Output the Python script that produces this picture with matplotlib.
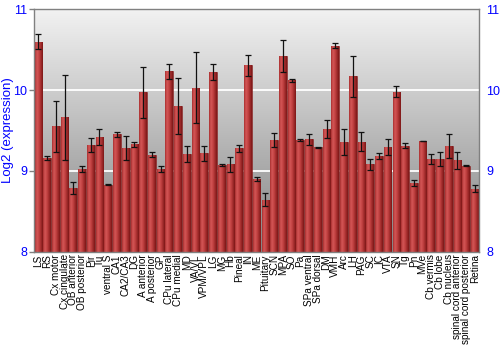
import numpy as np
import matplotlib
matplotlib.use("Agg")
import matplotlib.pyplot as plt
from matplotlib.colors import LinearSegmentedColormap

plt.rcParams['font.family'] = ['Liberation Sans', 'DejaVu Sans']

regions = [
    "LS", "RS", "Cx motor", "Cx cingulate", "OB anterior", "OB posterior",
    "Pir", "Tu", "ventral S", "CA1", "CA2/CA3", "DG", "A anterior",
    "A posterior", "GP", "CPu lateral", "CPu medial", "MD", "VA/VL",
    "VPM/VPL", "LG", "MG", "Hb", "Pineal", "IN", "ME", "Pituitary", "SCN",
    "MPA", "SO", "Pa", "SPa ventral", "SPa dorsal", "DM", "VMH", "Arc", "LH",
    "PAG", "SC", "IC", "VTA", "SN", "Tg", "Pn", "MVe", "Cb vermis", "Cb lobe",
    "Cb nucleus", "spinal cord anterior", "spinal cord posterior", "Retina",
]
expression = [
    10.60, 9.16, 9.55, 9.66, 8.79, 9.02, 9.32, 9.42, 8.83, 9.45,
    9.28, 9.33, 9.97, 9.20, 9.02, 10.23, 9.80, 9.21, 10.03, 9.22,
    10.22, 9.07, 9.08, 9.28, 10.31, 8.90, 8.64, 9.38, 10.42, 10.12,
    9.38, 9.39, 9.29, 9.52, 10.55, 9.36, 10.17, 9.36, 9.08, 9.18,
    9.29, 9.98, 9.31, 8.85, 9.37, 9.15, 9.15, 9.31, 9.13, 9.06,
    8.78,
]
errors = [
    0.09, 0.025, 0.32, 0.53, 0.077, 0.04, 0.083, 0.10, 0.012, 0.03,
    0.15, 0.03, 0.32, 0.03, 0.035, 0.097, 0.35, 0.10, 0.44, 0.093,
    0.097, 0.01, 0.09, 0.045, 0.13, 0.023, 0.08, 0.087, 0.20, 0.015,
    0.01, 0.07, 0.008, 0.11, 0.03, 0.16, 0.25, 0.115, 0.072, 0.037,
    0.10, 0.072, 0.033, 0.04, 0.005, 0.06, 0.085, 0.146, 0.107, 0.006,
    0.047,
]
y_ticks = [8, 9, 10, 11]

blue = "#0000ff"
frame = "#808080"

fig = plt.figure(figsize=(5, 3.5), dpi=100)
ax = fig.add_axes([0.068, 0.2814, 0.8906, 0.692])

base = y_ticks[0]
x = np.arange(len(regions))
heights = np.array(expression) - base

ax.set_xlim(-0.5, len(regions) - 0.5)
ax.set_ylim(y_ticks[0], y_ticks[-1])

# vertical gray gradient behind everything
bg_cmap = LinearSegmentedColormap.from_list("bg", ["#848484", "#f2f2f2"])
ax.imshow(np.linspace(0, 1, 256).reshape(-1, 1), extent=[0, 1, 0, 1],
          transform=ax.transAxes, cmap=bg_cmap, aspect="auto",
          origin="lower", zorder=-2)

for yv in y_ticks[1:-1]:
    ax.axhline(yv, color="white", lw=1.3, zorder=-1)

bars = ax.bar(x, heights, bottom=base, width=0.88, color="#b03030",
              edgecolor="#7a1a1a", linewidth=0.4, zorder=1)

# horizontal shading on each bar
bar_cmap = LinearSegmentedColormap.from_list(
    "bar", ["#a83030", "#d45656", "#c44444", "#a22c2c", "#7c1717"])
grad = np.linspace(0, 1, 64).reshape(1, -1)
for p in bars:
    im = ax.imshow(grad, extent=[p.get_x(), p.get_x() + p.get_width(),
                                 p.get_y(), p.get_y() + p.get_height()],
                   cmap=bar_cmap, aspect="auto", zorder=1.5)
    im.set_clip_path(p)

ax.errorbar(x, expression, yerr=errors, fmt="none", ecolor="#111111",
            elinewidth=0.9, capsize=2.2, capthick=0.9, zorder=3)

ax.set_xticks(x)
ax.set_xticklabels(regions, rotation=90, fontsize=7.2)
ax.tick_params(axis="x", length=0, pad=2)

ax.set_yticks(y_ticks)
ax.tick_params(axis="y", colors=frame, labelcolor=blue, labelsize=9,
               length=3.5, width=1, pad=1.5)
ax.tick_params(axis="y", right=True, labelright=True)
for t in ax.yaxis.get_major_ticks():
    t.tick2line.set_markersize(0)

ax.set_ylabel("Log2 (expression)", color=blue, fontsize=9.5)
ax.yaxis.set_label_coords(-0.046, 0.5)

for s in ax.spines.values():
    s.set_color(frame)
    s.set_linewidth(1)

fig.savefig("out.png", dpi=100)
